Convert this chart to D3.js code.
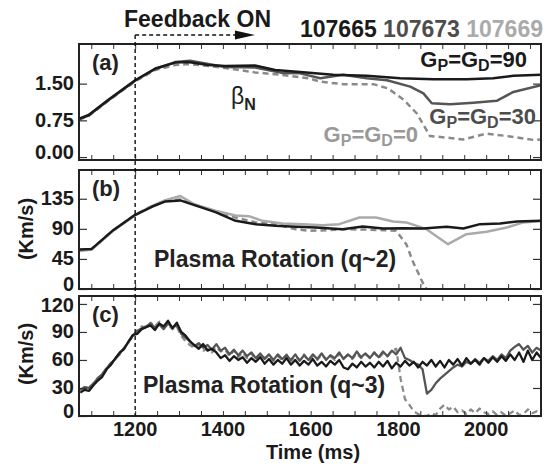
<!DOCTYPE html>
<html>
<head>
<meta charset="utf-8">
<script src="https://cdn.jsdelivr.net/npm/d3@7"></script>
<style>
  body { margin: 0; background: #fff; }
  svg { display: block; font-family: "Liberation Sans", Arial, Helvetica, sans-serif; font-weight: bold; }
</style>
</head>
<body>
<svg id="chart" width="547" height="468"></svg>
<script>
// shot numbers, labels
var shots = ['107665', '107673', '107669'];
var feedbackOn = 1200;
var arrowEnd = 1473;

// (a) beta_N
var aT90 = [1072, 1094, 1139, 1200, 1246, 1291, 1321, 1367, 1405, 1473, 1519, 1576, 1651, 1728, 1804, 1880, 1956, 2016, 2062, 2125];
var aV90 = [0.78, 0.86, 1.17, 1.57, 1.81, 1.93, 1.94, 1.88, 1.86, 1.87, 1.78, 1.74, 1.68, 1.66, 1.61, 1.59, 1.59, 1.61, 1.66, 1.68];
var aT30 = [1072, 1094, 1139, 1200, 1246, 1291, 1325, 1367, 1405, 1473, 1534, 1576, 1622, 1674, 1728, 1774, 1827, 1857, 1876, 1918, 1971, 2024, 2062, 2125];
var aV30 = [0.78, 0.85, 1.16, 1.56, 1.80, 1.94, 1.97, 1.90, 1.84, 1.83, 1.72, 1.71, 1.61, 1.68, 1.61, 1.57, 1.44, 1.30, 1.10, 1.08, 1.11, 1.15, 1.33, 1.47];
var aT0 = [1072, 1094, 1139, 1200, 1246, 1291, 1321, 1367, 1405, 1473, 1534, 1595, 1622, 1675, 1743, 1777, 1812, 1842, 1872, 1918, 1948, 2001, 2047, 2108, 2125];
var aV0 = [0.76, 0.84, 1.15, 1.55, 1.78, 1.88, 1.90, 1.86, 1.82, 1.73, 1.68, 1.61, 1.54, 1.49, 1.49, 1.40, 1.17, 0.89, 0.43, 0.39, 0.36, 0.48, 0.43, 0.35, 0.36];

// (b) rotation q~2
var bT90 = [1074, 1101, 1150, 1200, 1238, 1269, 1303, 1337, 1383, 1429, 1475, 1520, 1566, 1612, 1673, 1719, 1765, 1810, 1856, 1910, 1948, 1986, 2032, 2070, 2127];
var bV90 = [59, 60, 88, 111, 123, 131, 132.5, 125, 115, 102, 97, 94.5, 93, 92, 89.5, 93.5, 90.5, 91, 90.5, 93, 90.5, 97, 98, 101, 102];
var bT30 = [1074, 1101, 1150, 1200, 1238, 1269, 1303, 1337, 1383, 1429, 1459, 1490, 1536, 1582, 1627, 1665, 1711, 1749, 1788, 1818, 1864, 1913, 1955, 2001, 2047, 2085, 2127];
var bV30 = [57, 59, 87, 110, 124, 133, 139, 126, 117, 110, 109, 102, 98, 97, 95.5, 97, 107, 107, 101, 99.6, 89.5, 67, 82, 85.5, 92, 99.6, 102];
var bT0 = [1074, 1101, 1150, 1200, 1238, 1269, 1303, 1337, 1383, 1429, 1475, 1520, 1566, 1597, 1643, 1673, 1719, 1765, 1795, 1818, 1833, 1856, 1864];
var bV0 = [58, 60, 88, 111, 124, 132, 134, 126, 116, 107, 99.6, 97, 89.5, 87, 88, 89.5, 89, 88, 87, 67, 41, 8.6, 0];

// (c) rotation q~3, sampled every 10 ms from 1075 ms
var cStart = 1075, cStep = 10;
var cV90 = [25, 28, 27, 33, 38, 42, 50, 55, 62, 68, 72, 80, 87, 88, 93, 95, 97, 92, 99, 96,
  102, 94, 100, 90, 86, 80, 76, 72, 77, 70, 72, 68, 62, 65, 59, 64, 60, 63, 57, 62,
  58, 63, 56, 61, 55, 60, 56, 62, 55, 60, 54, 59, 55, 61, 54, 58, 53, 59, 55, 60,
  52, 50, 56, 52, 58, 53, 57, 52, 58, 53, 59, 51, 57, 53, 59, 54, 58, 52, 58, 54,
  60, 53, 59, 52, 60, 55, 61, 54, 62, 56, 60, 55, 62, 57, 63, 58, 64, 59, 66, 60,
  68, 58, 70, 60, 68, 62];
var cV30 = [28, 31, 30, 35, 40, 45, 51, 57, 61, 67, 73, 79, 86, 91, 94, 96, 99, 95, 98, 93,
  99, 95, 97, 88, 84, 80, 75, 78, 73, 76, 71, 77, 70, 73, 66, 71, 65, 70, 64, 68,
  62, 67, 61, 66, 60, 66, 61, 65, 60, 66, 59, 65, 60, 66, 61, 67, 60, 65, 62, 68,
  61, 66, 62, 69, 63, 67, 62, 68, 63, 69, 64, 70, 66, 73, 62, 60, 57, 55, 50, 24,
  28, 35, 40, 44, 48, 52, 55, 53, 58, 56, 61, 57, 62, 59, 64, 60, 66, 62, 70, 74,
  77, 71, 75, 68, 73, 70];
var cV0 = [27, 30, 31, 34, 41, 44, 52, 55, 62, 66, 72, 80, 85, 92, 96, 94, 100, 96, 101, 95,
  98, 93, 96, 86, 80, 76, 73, 76, 70, 72, 68, 74, 69, 71, 64, 70, 63, 68, 62, 67,
  60, 66, 62, 65, 59, 64, 60, 66, 59, 64, 60, 66, 59, 64, 60, 66, 61, 64, 60, 67,
  62, 65, 61, 67, 62, 66, 63, 68, 62, 67, 64, 70, 72, 40, 18, 12, 5, 2, 0, 0,
  3, 1, 8, 12, 7, 10, 4, 6, 2, 7, 3, 8, 4, 2, 5, 1, 4, 0, 3, 6,
  1, 2, 7, 3, 5, 2];

var xTicks = [1200, 1400, 1600, 1800, 2000];
var aTicks = [0, 0.75, 1.5];
var bTicks = [0, 45, 90, 135];
var cTicks = [0, 30, 60, 90, 120];

var BLACK = '#1a1a1a', DARK = '#555', MID = '#8a8a8a', LIGHT = '#aaa';

function pts(ts, vs) { return ts.map(function (t, i) { return [t, vs[i]]; }); }
function cPts(vs) { return vs.map(function (v, i) { return [cStart + i * cStep, v]; }); }

var svg = d3.select('#chart');
var x = d3.scaleLinear().domain([1072, 2125]).range([79, 541]);

var panels = [
  { id: 'a', top: 44, bottom: 160, domain: [-0.06, 2.31], ticks: aTicks, fmt: d3.format('.2f'), width: 2.5,
    series: [
      { d: pts(aT0, aV0), color: MID, dash: '6,4' },
      { d: pts(aT30, aV30), color: DARK },
      { d: pts(aT90, aV90), color: BLACK }
    ] },
  { id: 'b', top: 170, bottom: 289, domain: [0, 178], ticks: bTicks, fmt: d3.format('d'), width: 2.5,
    series: [
      { d: pts(bT0, bV0), color: MID, dash: '6,4' },
      { d: pts(bT30, bV30), color: LIGHT },
      { d: pts(bT90, bV90), color: BLACK }
    ] },
  { id: 'c', top: 296, bottom: 416, domain: [0, 128.5], ticks: cTicks, fmt: d3.format('d'), width: 2.3,
    series: [
      { d: cPts(cV0), color: MID, dash: '6,4' },
      { d: cPts(cV30), color: DARK },
      { d: cPts(cV90), color: BLACK }
    ] }
];

var minorTicks = d3.range(1100, 2125, 50);

panels.forEach(function (p) {
  var y = d3.scaleLinear().domain(p.domain).range([p.bottom, p.top]);
  var g = svg.append('g').attr('class', 'panel-' + p.id);

  svg.append('clipPath').attr('id', 'clip-' + p.id)
    .append('rect')
    .attr('x', x.range()[0]).attr('y', p.top)
    .attr('width', x.range()[1] - x.range()[0]).attr('height', p.bottom - p.top);

  var line = d3.line()
    .x(function (d) { return x(d[0]); })
    .y(function (d) { return y(d[1]); });

  g.append('g').attr('clip-path', 'url(#clip-' + p.id + ')')
    .selectAll('path')
    .data(p.series)
    .enter()
    .append('path')
    .attr('d', function (s) { return line(s.d); })
    .attr('fill', 'none')
    .attr('stroke', function (s) { return s.color; })
    .attr('stroke-width', p.width)
    .attr('stroke-linejoin', 'round')
    .attr('stroke-dasharray', function (s) { return s.dash || null; });

  // inward ticks on all four sides
  var tickColor = '#333';
  g.append('g').attr('transform', 'translate(0,' + p.bottom + ')')
    .call(d3.axisTop(x).tickValues(minorTicks).tickSize(5).tickFormat(''))
    .call(function (a) { a.select('.domain').remove(); a.selectAll('line').attr('stroke', tickColor); });
  g.append('g').attr('transform', 'translate(0,' + p.top + ')')
    .call(d3.axisBottom(x).tickValues(minorTicks).tickSize(5).tickFormat(''))
    .call(function (a) { a.select('.domain').remove(); a.selectAll('line').attr('stroke', tickColor); });
  g.append('g').attr('transform', 'translate(' + x.range()[0] + ',0)')
    .call(d3.axisRight(y).tickValues(p.ticks).tickSize(8).tickFormat(''))
    .call(function (a) { a.select('.domain').remove(); a.selectAll('line').attr('stroke', tickColor).attr('stroke-width', 1.2); });
  g.append('g').attr('transform', 'translate(' + x.range()[1] + ',0)')
    .call(d3.axisLeft(y).tickValues(p.ticks).tickSize(8).tickFormat(''))
    .call(function (a) { a.select('.domain').remove(); a.selectAll('line').attr('stroke', tickColor).attr('stroke-width', 1.2); });

  // tick labels (bottom one sits higher, the top one of (c) a touch lower)
  var last = p.ticks.length - 1;
  g.selectAll('text.ylab')
    .data(p.ticks)
    .enter()
    .append('text')
    .attr('class', 'ylab')
    .attr('x', 74)
    .attr('y', function (d, i) {
      if (i === 0) return y(d) - 5;
      if (i === last && p.id === 'c') return y(d) + 1;
      return y(d) - 1;
    })
    .attr('dy', '0.36em')
    .attr('text-anchor', 'end')
    .attr('font-size', 20)
    .attr('fill', '#1a1a1a')
    .text(p.fmt);

  g.append('rect')
    .attr('x', x.range()[0]).attr('y', p.top)
    .attr('width', x.range()[1] - x.range()[0]).attr('height', p.bottom - p.top)
    .attr('fill', 'none').attr('stroke', '#222').attr('stroke-width', 2);

  g.append('text')
    .attr('x', 92).attr('y', p.top + 26)
    .attr('font-size', 22).attr('fill', '#222')
    .text('(' + p.id + ')');
});

// x tick labels
svg.selectAll('text.xlab')
  .data(xTicks)
  .enter()
  .append('text')
  .attr('class', 'xlab')
  .attr('x', function (d) { return x(d); })
  .attr('y', 436)
  .attr('text-anchor', 'middle')
  .attr('font-size', 20)
  .attr('fill', '#1a1a1a')
  .text(function (d) { return d; });

svg.append('text')
  .attr('x', 313).attr('y', 459)
  .attr('text-anchor', 'middle').attr('font-size', 20).attr('fill', '#1a1a1a')
  .text('Time (ms)');

// y titles
[[229, 'b'], [354, 'c']].forEach(function (d) {
  svg.append('text')
    .attr('transform', 'translate(33,' + d[0] + ') rotate(-90)')
    .attr('text-anchor', 'middle').attr('font-size', 20).attr('fill', '#1a1a1a')
    .text('(Km/s)');
});

// feedback marker
svg.append('line')
  .attr('x1', x(feedbackOn)).attr('x2', x(feedbackOn))
  .attr('y1', 35).attr('y2', 416)
  .attr('stroke', '#111').attr('stroke-width', 1.4).attr('stroke-dasharray', '4,3');
svg.append('line')
  .attr('x1', x(feedbackOn)).attr('x2', x(arrowEnd) - 16)
  .attr('y1', 35).attr('y2', 35)
  .attr('stroke', '#111').attr('stroke-width', 1.4).attr('stroke-dasharray', '4,3');
svg.append('path')
  .attr('d', 'M' + x(arrowEnd) + ',35 l-20,-4.5 v9 z')
  .attr('fill', '#111');

svg.append('text')
  .attr('x', 124).attr('y', 27)
  .attr('font-size', 23).attr('fill', '#1a1a1a')
  .text('Feedback ON');

var shotColors = [BLACK, '#4d4d4d', LIGHT];
var shotText = svg.append('text')
  .attr('x', 543).attr('y', 37)
  .attr('text-anchor', 'end')
  .attr('font-size', 23);
shots.forEach(function (s, i) {
  shotText.append('tspan')
    .attr('fill', shotColors[i])
    .text((i ? ' ' : '') + s);
});

// gain labels
function gainLabel(xPos, yPos, value, color, anchor) {
  var t = svg.append('text')
    .attr('x', xPos).attr('y', yPos)
    .attr('text-anchor', anchor || 'start')
    .attr('font-size', 22).attr('fill', color);
  t.append('tspan').text('G');
  t.append('tspan').attr('font-size', 16).attr('dy', 4).text('P');
  t.append('tspan').attr('dy', -4).text('=G');
  t.append('tspan').attr('font-size', 16).attr('dy', 4).text('D');
  t.append('tspan').attr('dy', -4).text('=' + value);
}
gainLabel(527, 67, '90', BLACK, 'end');
gainLabel(536, 124, '30', '#4d4d4d', 'end');
gainLabel(418, 142, '0', '#999', 'end');

var beta = svg.append('text')
  .attr('x', 231).attr('y', 104)
  .attr('font-size', 23).attr('fill', '#222');
beta.append('tspan').attr('font-weight', 'normal').text('β');
beta.append('tspan').attr('font-size', 16).attr('dy', 6).text('N');

svg.append('text')
  .attr('x', 154).attr('y', 267)
  .attr('font-size', 23).attr('fill', '#222')
  .text('Plasma Rotation (q~2)');
svg.append('text')
  .attr('x', 143).attr('y', 393)
  .attr('font-size', 23).attr('fill', '#222')
  .text('Plasma Rotation (q~3)');
</script>
</body>
</html>
